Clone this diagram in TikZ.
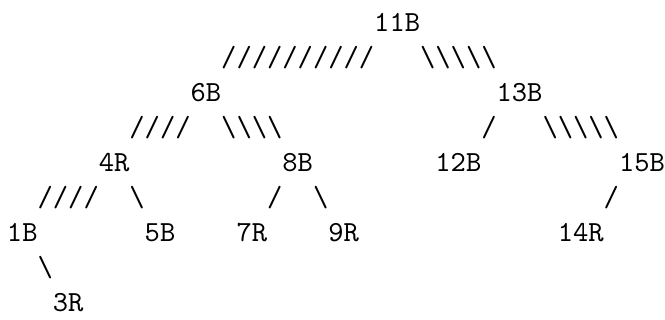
\documentclass[tikz,border=0pt]{standalone}
\newcommand\bks{\textbackslash}
\tikzset{
  t/.style={font=\ttfamily\fontsize{10}{12}\selectfont, scale=2.186, transform shape, inner sep=0pt, outer sep=0pt, anchor=base west, text=black},
}
% column c, row r  ->  px coordinates
\newcommand\gridpt[2]{({7+15.3*#1},{31.5+35*#2})}
\begin{document}
\begin{tikzpicture}[x=0.75pt,y=-0.75pt]
\fill[white] (0,0) rectangle (665,320);
\useasboundingbox (0,0) rectangle (665,320);
% row 0
\node[t] (n11) at \gridpt{24}{0} {11B};
% row 1
\node[t] (s11l) at \gridpt{14}{1} {//////////};
\node[t] (s11r) at \gridpt{27}{1} {\bks\bks\bks\bks\bks};
% row 2
\node[t] (n6) at \gridpt{12}{2} {6B};
\node[t] (n13) at \gridpt{32}{2} {13B};
% row 3
\node[t] (s6l) at \gridpt{8}{3} {////};
\node[t] (s6r) at \gridpt{14}{3} {\bks\bks\bks\bks};
\node[t] (s13l) at \gridpt{31}{3} {/};
\node[t] (s13r) at \gridpt{35}{3} {\bks\bks\bks\bks\bks};
% row 4
\node[t] (n4) at \gridpt{6}{4} {4R};
\node[t] (n8) at \gridpt{18}{4} {8B};
\node[t] (n12) at \gridpt{28}{4} {12B};
\node[t] (n15) at \gridpt{40}{4} {15B};
% row 5
\node[t] (s4l) at \gridpt{2}{5} {////};
\node[t] (s4r) at \gridpt{8}{5} {\bks};
\node[t] (s8l) at \gridpt{17}{5} {/};
\node[t] (s8r) at \gridpt{20}{5} {\bks};
\node[t] (s15l) at \gridpt{39}{5} {/};
% row 6
\node[t] (n1) at \gridpt{0}{6} {1B};
\node[t] (n5) at \gridpt{9}{6} {5B};
\node[t] (n7) at \gridpt{15}{6} {7R};
\node[t] (n9) at \gridpt{21}{6} {9R};
\node[t] (n14) at \gridpt{36}{6} {14R};
% row 7
\node[t] (s1r) at \gridpt{2}{7} {\bks};
% row 8
\node[t] (n3) at \gridpt{3}{8} {3R};
\end{tikzpicture}
\end{document}
